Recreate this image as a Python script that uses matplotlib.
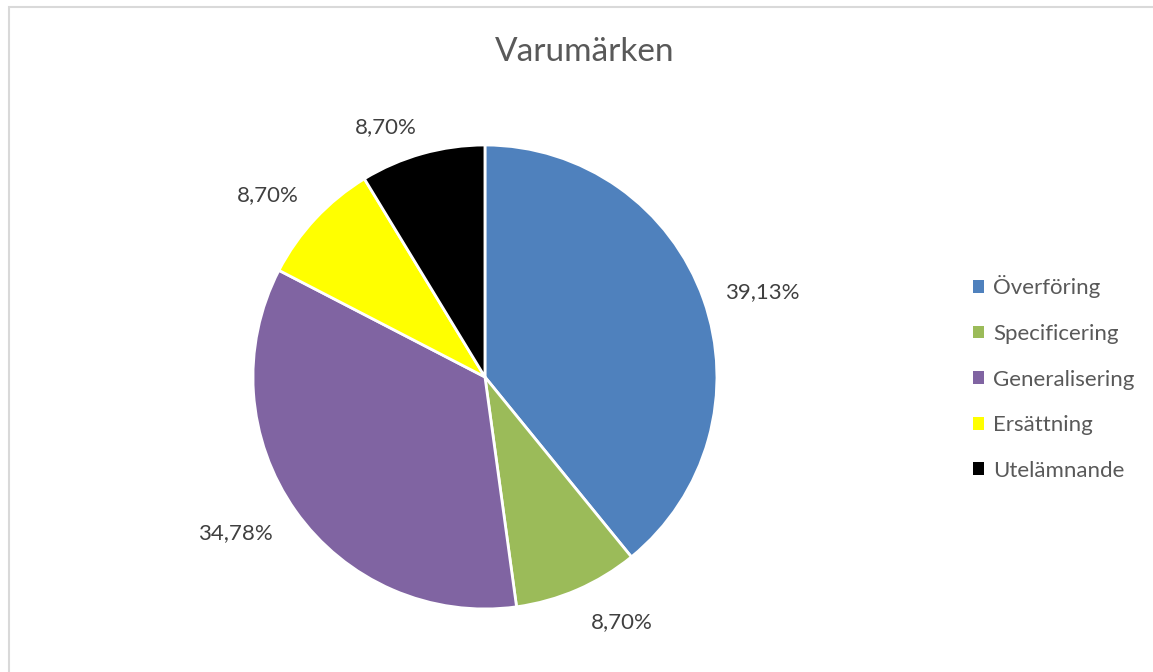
import numpy as np
import matplotlib.pyplot as plt
from matplotlib.patches import Rectangle, Patch

plt.rcParams['font.family'] = ['Lato', 'DejaVu Sans']

# data
categories = ['Överföring', 'Specificering', 'Generalisering', 'Ersättning', 'Utelämnande']
shares = [39.13, 8.70, 34.78, 8.70, 8.70]
colors = ['#4F81BD', '#9BBB59', '#8064A2', '#FFFF00', '#000000']

# label placement (Excel "best fit" style): radial distance and angle nudge per slice
label_dist = [1.25, 1.21, 1.27, 1.22, 1.16]
label_nudge = [-2.6, 5.7, -3.2, 3.0, 6.0]

fig = plt.figure(figsize=(11.53, 6.72), dpi=100)

# light grey chart border (only top/left visible)
fig.patches.append(Rectangle((8.5 / 1153, -0.1), 1.2, 1.1 - 7.5 / 672,
                             transform=fig.transFigure, fill=False,
                             edgecolor='#D9D9D9', linewidth=1.5))

ax = fig.add_axes([0.2194, 0.09375, 0.4024, 0.6905])
wedges, texts = ax.pie(shares, colors=colors, startangle=90, counterclock=False,
                       wedgeprops=dict(edgecolor='white', linewidth=2.0))
ax.set_xlim(-1, 1)
ax.set_ylim(-1, 1)
ax.set_aspect('equal')

for w, v, d, n in zip(wedges, shares, label_dist, label_nudge):
    ang = np.deg2rad((w.theta1 + w.theta2) / 2 + n)
    ax.text(d * np.cos(ang), d * np.sin(ang), f'{v:.2f}%'.replace('.', ','),
            ha='center', va='center', fontsize=16, color='#404040')

fig.text(585 / 1153, 1 - 52 / 672, 'Varumärken', ha='center', va='center',
         fontsize=24, color='#595959')

handles = [Patch(facecolor=c, edgecolor='none') for c in colors]
fig.legend(handles, categories, loc='center left', bbox_to_anchor=(953 / 1153, 1 - 378 / 672),
           frameon=False, fontsize=16, labelcolor='#595959', handlelength=0.5,
           handleheight=0.5, handletextpad=0.4, labelspacing=1.15)

fig.savefig('out.png', dpi=100, facecolor='white')
